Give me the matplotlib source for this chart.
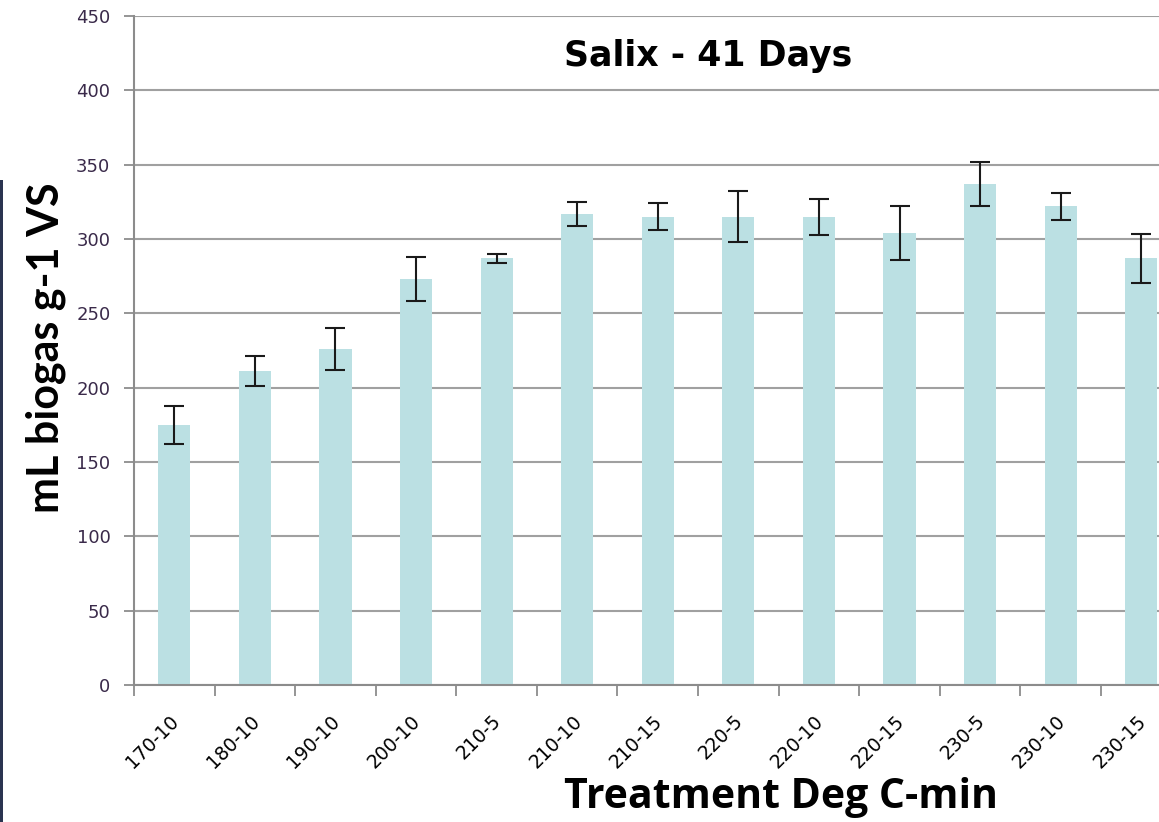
import matplotlib
matplotlib.use("Agg")
import matplotlib.pyplot as plt
import matplotlib.transforms as mtransforms
from matplotlib.patches import Rectangle
import numpy as np

# data
treatments = ["170-10", "180-10", "190-10", "200-10", "210-5", "210-10",
              "210-15", "220-5", "220-10", "220-15", "230-5", "230-10",
              "230-15"]
biogas = [175, 211, 226, 273, 287, 317, 315, 315, 315, 304, 337, 322, 287]
err = [13, 10, 14, 15, 3, 8, 9, 17, 12, 18, 14.5, 9, 16.5]
yticks = [0, 50, 100, 150, 200, 250, 300, 350, 400, 450]

W, H = 1159, 822
fig = plt.figure(figsize=(W / 100, H / 100), dpi=100)
# axes box in pixels: left 134, right 1159 (cut off), top 16, bottom 685
ax = fig.add_axes([134 / W, 1 - 685 / H, 1 - 134 / W, (685 - 16) / H])

x = np.arange(len(treatments))
ax.bar(x, biogas, width=0.4, color="#bbe0e3", zorder=2)
ax.errorbar(x, biogas, yerr=err, fmt="none", ecolor="#1a1a1a",
            elinewidth=1.5, capsize=7, capthick=1.5, zorder=3)

ax.set_yticks(yticks)
ax.yaxis.grid(True, color="#a0a0a0", linewidth=1.5, zorder=1)
ax.set_axisbelow(True)

ax.set_xticks(x)
ax.set_xticklabels(treatments, rotation=45, ha="right",
                   rotation_mode="anchor", fontsize=13.5, family="DejaVu Sans")
ax.set_xticks(np.arange(-0.5, len(treatments) - 0.5), minor=True)
ax.tick_params(axis="x", which="major", length=0, pad=19)
ax.tick_params(axis="x", which="minor", length=8, width=1.3, color="#8c8c8c",
               direction="out")
ax.tick_params(axis="y", length=7, width=1.3, color="#8c8c8c",
               labelsize=13, labelcolor="#3a2a4a", pad=10)

# nudge the rotated labels a little to the left
shift = mtransforms.ScaledTranslation(-5 / 100, 0, fig.dpi_scale_trans)
for lab in ax.get_xticklabels():
    lab.set_transform(lab.get_transform() + shift)

# the screenshot cuts the chart off inside the 230-15 bar
ax.set_ylim(0, 450)
ax.set_xlim(-0.5, 12.22)

for s in ("top", "right"):
    ax.spines[s].set_visible(False)
for s in ("left", "bottom"):
    ax.spines[s].set_color("#8c8c8c")
    ax.spines[s].set_linewidth(1.5)

ax.text(0.56, 0.965, "Salix - 41 Days", transform=ax.transAxes,
        ha="center", va="top", fontsize=25, family="DejaVu Sans",
        fontweight="semibold")

fig.text(781 / W, 1 - 797 / H, "Treatment Deg C-min", ha="center",
         va="center", fontsize=29.5, fontweight="bold", family="Open Sans")
fig.text(46 / W, 1 - 348 / H, "mL biogas g-1 VS", ha="center",
         va="center", rotation=90, fontsize=31, fontweight="bold",
         family="Lato")

# thin dark edge of the slide background on the far left
fig.patches.append(Rectangle((0, 0), 3 / W, 1 - 180 / H,
                             transform=fig.transFigure,
                             facecolor="#2a3450", edgecolor="none"))

fig.savefig("out.png", dpi=100)
